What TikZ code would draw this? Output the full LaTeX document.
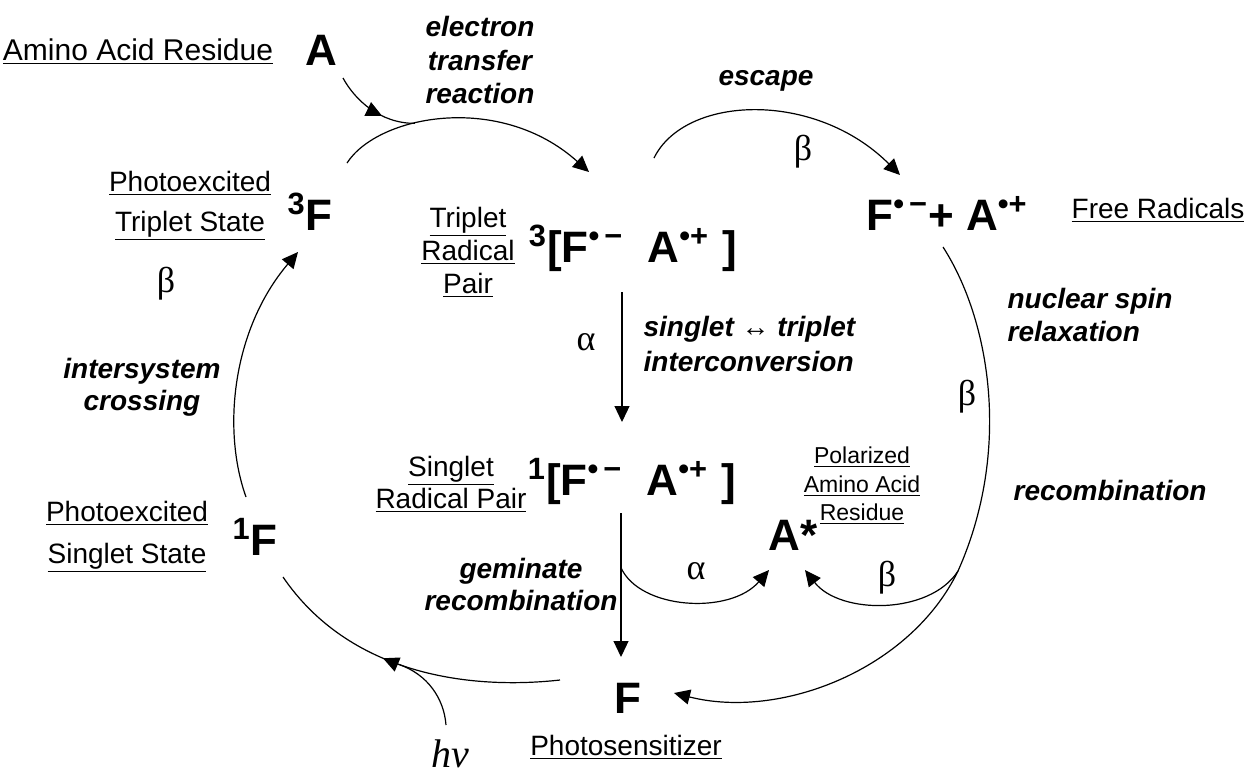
\documentclass[tikz,border=0pt]{standalone}
\usepackage{fontspec}
\setmainfont{Liberation Sans}
\newfontfamily\grkfont{Liberation Serif}
\usetikzlibrary{arrows.meta,calc,decorations.markings}
\newcommand{\radanion}{\textsuperscript{•\,−}}
\newcommand{\radcation}{\textsuperscript{•+}}

\begin{document}
\begin{tikzpicture}[x=0.5pt,y=-0.5pt,line width=0.6pt,
    arr/.style={-{Triangle[length=8pt,width=7.5pt]}},
    midarr/.style={postaction={decorate},decoration={markings,
        mark=at position #1 with {\arrow{Triangle[length=8pt,width=7.5pt]}}}},
    bigf/.style={font=\fontsize{22}{26}\selectfont\bfseries,anchor=base,inner sep=0pt},
    lbl/.style={font=\fontsize{14}{#1}\selectfont,align=center,inner sep=0pt},
    lbl/.default=17,
    proc/.style={font=\fontsize{14}{#1}\selectfont\bfseries\itshape,align=center,inner sep=0pt},
    proc/.default=17,
    grk/.style={font=\fontsize{18}{20}\selectfont\grkfont,inner sep=0pt}]
        \useasboundingbox (0,0) rectangle (1247,773);
        % species
        \node[bigf] (A) at (321,65) {A};
        \node[bigf] (tF) at (310,230) {\textsuperscript{3}F};
        \node[bigf] (tRP) at (633,262) {\textsuperscript{3}[F\radanion\hspace{0.55em}A\radcation\hspace{0.3em}]};
        \node[bigf] (FA) at (947,230) {F\radanion+ A\radcation};
        \node[bigf] (sRP) at (632,495) {\textsuperscript{1}[F\radanion\hspace{0.55em}A\radcation\hspace{0.3em}]};
        \node[bigf] (As) at (793,550) {A*};
        \node[bigf] (sF) at (255,555) {\textsuperscript{1}F};
        \node[bigf] (F) at (628,713) {F};
        % names
        \node[lbl,font=\fontsize{15}{18}\selectfont,anchor=base] (aar) at (138,60) {\underline{Amino Acid Residue}};
        \node[lbl=20] (pts) at (190,206) {\underline{Photoexcited}\\\underline{Triplet State}};
        \node[lbl=16.5] (trl) at (468,252) {\underline{Triplet}\\\underline{Radical}\\\underline{Pair}};
        \node[lbl=16] (srl) at (451,484) {\underline{Singlet}\\\underline{Radical Pair}};
        \node[lbl=21] (pss) at (127,537) {\underline{Photoexcited}\\\underline{Singlet State}};
        \node[lbl,font=\fontsize{11.5}{14.25}\selectfont] (pol) at (862,486) {\underline{Polarized}\\\underline{Amino Acid}\\\underline{Residue}};
        \node[lbl,anchor=base] (frl) at (1158,218) {\underline{Free Radicals}};
        \node[lbl,anchor=base] (psl) at (626,755) {\underline{Photosensitizer}};
        % processes
        \node[proc=16.75] (etr) at (480,60) {electron\\transfer\\reaction};
        \node[proc,anchor=base] (esc) at (766,85) {escape};
        \node[proc=17.5,align=left,anchor=west] (sti) at (643,343.5) {singlet ↔ triplet\\interconversion};
        \node[proc=16.5,align=left,anchor=west] (nsr) at (1007,314.5) {nuclear spin\\relaxation};
        \node[proc=16] (isc) at (142,387) {intersystem\\crossing};
        \node[proc=16] (gem) at (521,584) {geminate\\recombination};
        \node[proc,anchor=base west] (rec) at (1013,500) {recombination};
        % rates
        \node[grk] (b1) at (166,284) {β};
        \node[grk] (a1) at (586,342) {α};
        \node[grk] (b2) at (803,152) {β};
        \node[grk] (b3) at (967,397) {β};
        \node[grk] (a2) at (696,571) {α};
        \node[grk] (b4) at (887,578) {β};
        \node[grk,font=\fontsize{20}{22}\selectfont\grkfont\itshape,anchor=base] (hv) at (450,767) {hν};
        % arrows
        \draw[arr] ($(tF.base)+(37,-67)$) .. controls +(31,-48) and +(-89,-80) .. ($(tRP.base)+(-44,-90)$) coordinate[pos=0.38] (etj);
        \draw[midarr=0.62] ($(A.base)+(22,13)$) .. controls +(12,22) and +(-35,0) .. (etj);
        \draw[arr] ($(tRP.base)+(21,-104)$) .. controls +(31,-63) and +(-85,-85) .. ($(FA.base)+(-47,-55)$);
        \draw[arr] ($(FA.base)+(-4,17)$) .. controls (990,320) and (1012,450) .. (958,571) coordinate (rj)
            .. controls (910,670) and (780,720) .. ($(F.base)+(46,-20)$);
        \draw[arr] ($(sF.base)+(-9,-58)$) .. controls +(-24,-67) and +(-66,78) .. ($(tF.base)+(-12,22)$);
        \draw[arr] ($(tRP.base)+(-11,30)$) -- ($(sRP.base)+(-10,-73)$);
        \draw[arr] ($(sRP.base)+(-11,18)$) -- ($(F.base)+(-7,-56)$) coordinate[pos=0.38] (gj);
        \draw[arr] (gj) .. controls +(19,42) and +(-39,45) .. ($(As.base)+(-24,20)$);
        \draw[arr] (rj) .. controls +(-28,44) and +(35,45) .. ($(As.base)+(12,20)$);
        \draw[midarr=0.58] ($(F.base)+(-68,-33)$) .. controls +(-90,10) and +(67,98) .. ($(sF.base)+(28,22)$) coordinate[pos=0.55] (hj);
        \draw ($(hv.base)+(-4,-42)$) .. controls +(-2,-26) and +(30,10) .. (hj);
\end{tikzpicture}
\end{document}
